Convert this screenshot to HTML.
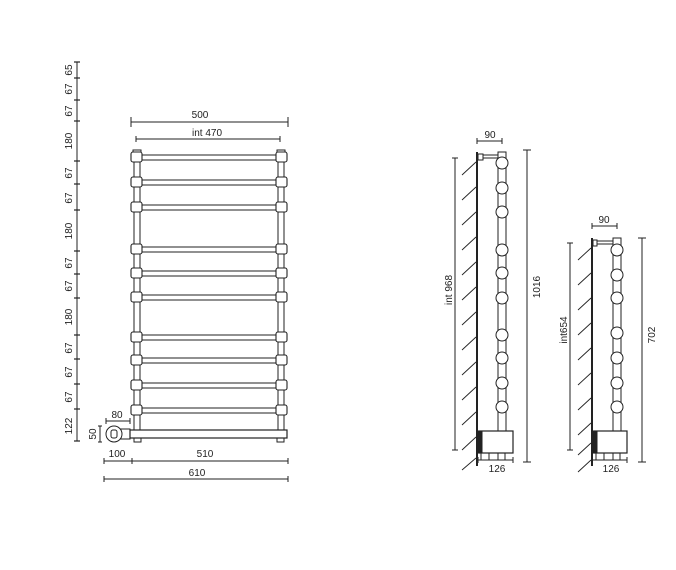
<!DOCTYPE html>
<html><head><style>
body{margin:0;background:#fff}
svg{display:block}
text{font-family:"Liberation Sans",sans-serif;font-size:10px;fill:#222}
</style></head><body>
<svg width="676" height="570" viewBox="0 0 676 570" xmlns="http://www.w3.org/2000/svg">
<g stroke="#222" fill="none" stroke-width="1">
<!-- left vertical dimension -->
<line x1="77" y1="62" x2="77" y2="441"/>
<g stroke-width="1.2">
<line x1="74" y1="62" x2="80" y2="62"/><line x1="74" y1="78" x2="80" y2="78"/>
<line x1="74" y1="100" x2="80" y2="100"/><line x1="74" y1="121" x2="80" y2="121"/>
<line x1="74" y1="161" x2="80" y2="161"/><line x1="74" y1="184" x2="80" y2="184"/>
<line x1="74" y1="210" x2="80" y2="210"/><line x1="74" y1="251" x2="80" y2="251"/>
<line x1="74" y1="274" x2="80" y2="274"/><line x1="74" y1="298" x2="80" y2="298"/>
<line x1="74" y1="335" x2="80" y2="335"/><line x1="74" y1="359" x2="80" y2="359"/>
<line x1="74" y1="384" x2="80" y2="384"/><line x1="74" y1="409" x2="80" y2="409"/>
<line x1="74" y1="441" x2="80" y2="441"/>
</g>
<!-- top dims -->
<line x1="131" y1="122" x2="288" y2="122"/><line x1="131" y1="117" x2="131" y2="127"/><line x1="288" y1="117" x2="288" y2="127"/>
<line x1="136" y1="139" x2="280" y2="139"/><line x1="136" y1="136" x2="136" y2="142"/><line x1="280" y1="136" x2="280" y2="142"/>
<!-- rails -->
<rect x="134" y="150" width="6" height="288"/>
<rect x="278" y="150" width="6" height="288"/>
<rect x="133" y="150" width="8" height="5" fill="#fff"/>
<rect x="277" y="150" width="8" height="5" fill="#fff"/>
<!-- bars -->
<g>
<line x1="142" y1="155" x2="276" y2="155"/><line x1="142" y1="160" x2="276" y2="160"/>
<line x1="142" y1="180" x2="276" y2="180"/><line x1="142" y1="185" x2="276" y2="185"/>
<line x1="142" y1="205" x2="276" y2="205"/><line x1="142" y1="210" x2="276" y2="210"/>
<line x1="142" y1="247" x2="276" y2="247"/><line x1="142" y1="252" x2="276" y2="252"/>
<line x1="142" y1="271" x2="276" y2="271"/><line x1="142" y1="276" x2="276" y2="276"/>
<line x1="142" y1="295" x2="276" y2="295"/><line x1="142" y1="300" x2="276" y2="300"/>
<line x1="142" y1="335" x2="276" y2="335"/><line x1="142" y1="340" x2="276" y2="340"/>
<line x1="142" y1="358" x2="276" y2="358"/><line x1="142" y1="363" x2="276" y2="363"/>
<line x1="142" y1="383" x2="276" y2="383"/><line x1="142" y1="388" x2="276" y2="388"/>
<line x1="142" y1="408" x2="276" y2="408"/><line x1="142" y1="413" x2="276" y2="413"/>
</g>
<g fill="#fff" stroke-width="1.1">
<rect x="131" y="152" width="11" height="10" rx="2"/><rect x="276" y="152" width="11" height="10" rx="2"/>
<rect x="131" y="177" width="11" height="10" rx="2"/><rect x="276" y="177" width="11" height="10" rx="2"/>
<rect x="131" y="202" width="11" height="10" rx="2"/><rect x="276" y="202" width="11" height="10" rx="2"/>
<rect x="131" y="244" width="11" height="10" rx="2"/><rect x="276" y="244" width="11" height="10" rx="2"/>
<rect x="131" y="268" width="11" height="10" rx="2"/><rect x="276" y="268" width="11" height="10" rx="2"/>
<rect x="131" y="292" width="11" height="10" rx="2"/><rect x="276" y="292" width="11" height="10" rx="2"/>
<rect x="131" y="332" width="11" height="10" rx="2"/><rect x="276" y="332" width="11" height="10" rx="2"/>
<rect x="131" y="355" width="11" height="10" rx="2"/><rect x="276" y="355" width="11" height="10" rx="2"/>
<rect x="131" y="380" width="11" height="10" rx="2"/><rect x="276" y="380" width="11" height="10" rx="2"/>
<rect x="131" y="405" width="11" height="10" rx="2"/><rect x="276" y="405" width="11" height="10" rx="2"/>
</g>
<!-- bottom bar -->
<rect x="130" y="430" width="157" height="8" fill="#fff" stroke-width="1.2"/>
<rect x="134" y="438" width="7" height="4"/><rect x="277" y="438" width="7" height="4"/>
<!-- valve -->
<circle cx="114" cy="434" r="8"/>
<rect x="111" y="430" width="6" height="8" rx="2"/>
<path d="M120 429 L130 429 L130 439 L120 439"/>
<line x1="106" y1="421" x2="130" y2="421"/><line x1="106" y1="418" x2="106" y2="424"/><line x1="130" y1="418" x2="130" y2="424"/>
<line x1="100" y1="426" x2="100" y2="442"/><line x1="98" y1="426" x2="102" y2="426"/><line x1="98" y1="442" x2="102" y2="442"/>
<!-- bottom dims -->
<line x1="104" y1="461" x2="288" y2="461"/><line x1="104" y1="458" x2="104" y2="464"/><line x1="132" y1="458" x2="132" y2="464"/><line x1="288" y1="458" x2="288" y2="464"/>
<line x1="104" y1="479" x2="288" y2="479"/><line x1="104" y1="476" x2="104" y2="482"/><line x1="288" y1="476" x2="288" y2="482"/>

<!-- side view 1 -->
<line x1="477" y1="152" x2="477" y2="466" stroke-width="2"/>
<g stroke-width="0.9">
<line x1="462" y1="175" x2="476" y2="162"/><line x1="462" y1="200" x2="476" y2="187"/><line x1="462" y1="225" x2="476" y2="212"/>
<line x1="462" y1="250" x2="476" y2="237"/><line x1="462" y1="275" x2="476" y2="262"/><line x1="462" y1="300" x2="476" y2="287"/>
<line x1="462" y1="325" x2="476" y2="312"/><line x1="462" y1="350" x2="476" y2="337"/><line x1="462" y1="375" x2="476" y2="362"/>
<line x1="462" y1="400" x2="476" y2="387"/><line x1="462" y1="425" x2="476" y2="412"/><line x1="462" y1="450" x2="476" y2="437"/>
<line x1="462" y1="470" x2="476" y2="458"/>
</g>
<rect x="478" y="154" width="5" height="6"/>
<line x1="483" y1="155" x2="498" y2="155"/><line x1="483" y1="158" x2="498" y2="158"/>
<rect x="498" y="152" width="8" height="280"/>
<g fill="#fff">
<circle cx="502" cy="163" r="6"/><circle cx="502" cy="188" r="6"/><circle cx="502" cy="212" r="6"/>
<circle cx="502" cy="250" r="6"/><circle cx="502" cy="273" r="6"/><circle cx="502" cy="298" r="6"/>
<circle cx="502" cy="335" r="6"/><circle cx="502" cy="358" r="6"/><circle cx="502" cy="383" r="6"/>
<circle cx="502" cy="407" r="6"/>
<rect x="479" y="431" width="34" height="22" stroke-width="1.2"/>
</g>
<rect x="478" y="431" width="4" height="22" fill="#222"/>
<rect x="481" y="453" width="8" height="7"/><rect x="489" y="453" width="9" height="7"/><rect x="498" y="453" width="7" height="7"/>
<line x1="477" y1="141" x2="502" y2="141"/><line x1="477" y1="138" x2="477" y2="144"/><line x1="502" y1="138" x2="502" y2="144"/>
<line x1="527" y1="150" x2="527" y2="462"/><line x1="523" y1="150" x2="531" y2="150"/><line x1="523" y1="462" x2="531" y2="462"/>
<line x1="455" y1="158" x2="455" y2="450"/><line x1="452" y1="158" x2="458" y2="158"/><line x1="452" y1="450" x2="458" y2="450"/>
<line x1="478" y1="460" x2="513" y2="460"/><line x1="478" y1="457" x2="478" y2="463"/><line x1="513" y1="457" x2="513" y2="463"/>

<!-- side view 2 -->
<line x1="592" y1="238" x2="592" y2="466" stroke-width="2"/>
<g stroke-width="0.9">
<line x1="578" y1="260" x2="591" y2="248"/><line x1="578" y1="285" x2="591" y2="273"/><line x1="578" y1="310" x2="591" y2="298"/>
<line x1="578" y1="335" x2="591" y2="323"/><line x1="578" y1="360" x2="591" y2="348"/><line x1="578" y1="385" x2="591" y2="373"/>
<line x1="578" y1="410" x2="591" y2="398"/><line x1="578" y1="435" x2="591" y2="423"/><line x1="578" y1="455" x2="591" y2="443"/>
<line x1="578" y1="472" x2="591" y2="460"/>
</g>
<rect x="593" y="240" width="4" height="6"/>
<line x1="597" y1="241" x2="613" y2="241"/><line x1="597" y1="244" x2="613" y2="244"/>
<rect x="613" y="238" width="8" height="194"/>
<g fill="#fff">
<circle cx="617" cy="250" r="6"/><circle cx="617" cy="275" r="6"/><circle cx="617" cy="298" r="6"/>
<circle cx="617" cy="333" r="6"/><circle cx="617" cy="358" r="6"/><circle cx="617" cy="383" r="6"/>
<circle cx="617" cy="407" r="6"/>
<rect x="594" y="431" width="33" height="22" stroke-width="1.2"/>
</g>
<rect x="593" y="431" width="4" height="22" fill="#222"/>
<rect x="596" y="453" width="8" height="7"/><rect x="604" y="453" width="9" height="7"/><rect x="613" y="453" width="7" height="7"/>
<line x1="592" y1="226" x2="617" y2="226"/><line x1="592" y1="223" x2="592" y2="229"/><line x1="617" y1="223" x2="617" y2="229"/>
<line x1="642" y1="238" x2="642" y2="462"/><line x1="638" y1="238" x2="646" y2="238"/><line x1="638" y1="462" x2="646" y2="462"/>
<line x1="570" y1="243" x2="570" y2="450"/><line x1="567" y1="243" x2="573" y2="243"/><line x1="567" y1="450" x2="573" y2="450"/>
<line x1="592" y1="460" x2="627" y2="460"/><line x1="592" y1="457" x2="592" y2="463"/><line x1="627" y1="457" x2="627" y2="463"/>
</g>

<!-- labels -->
<g>
<text transform="translate(72,70) rotate(-90)" text-anchor="middle">65</text>
<text transform="translate(72,89) rotate(-90)" text-anchor="middle">67</text>
<text transform="translate(72,111) rotate(-90)" text-anchor="middle">67</text>
<text transform="translate(72,141) rotate(-90)" text-anchor="middle">180</text>
<text transform="translate(72,173) rotate(-90)" text-anchor="middle">67</text>
<text transform="translate(72,198) rotate(-90)" text-anchor="middle">67</text>
<text transform="translate(72,231) rotate(-90)" text-anchor="middle">180</text>
<text transform="translate(72,263) rotate(-90)" text-anchor="middle">67</text>
<text transform="translate(72,286) rotate(-90)" text-anchor="middle">67</text>
<text transform="translate(72,317) rotate(-90)" text-anchor="middle">180</text>
<text transform="translate(72,348) rotate(-90)" text-anchor="middle">67</text>
<text transform="translate(72,372) rotate(-90)" text-anchor="middle">67</text>
<text transform="translate(72,397) rotate(-90)" text-anchor="middle">67</text>
<text transform="translate(72,426) rotate(-90)" text-anchor="middle">122</text>
<text transform="translate(96,434) rotate(-90)" text-anchor="middle">50</text>
<text x="200" y="118" text-anchor="middle">500</text>
<text x="207" y="136" text-anchor="middle">int 470</text>
<text x="117" y="418" text-anchor="middle">80</text>
<text x="117" y="457" text-anchor="middle">100</text>
<text x="205" y="457" text-anchor="middle">510</text>
<text x="197" y="476" text-anchor="middle">610</text>
<text x="490" y="138" text-anchor="middle">90</text>
<text transform="translate(452,290) rotate(-90)" text-anchor="middle">int 968</text>
<text transform="translate(540,287) rotate(-90)" text-anchor="middle">1016</text>
<text x="497" y="472" text-anchor="middle">126</text>
<text x="604" y="223" text-anchor="middle">90</text>
<text transform="translate(567,330) rotate(-90)" text-anchor="middle">int654</text>
<text transform="translate(655,335) rotate(-90)" text-anchor="middle">702</text>
<text x="611" y="472" text-anchor="middle">126</text>
</g>
</svg>
</body></html>
